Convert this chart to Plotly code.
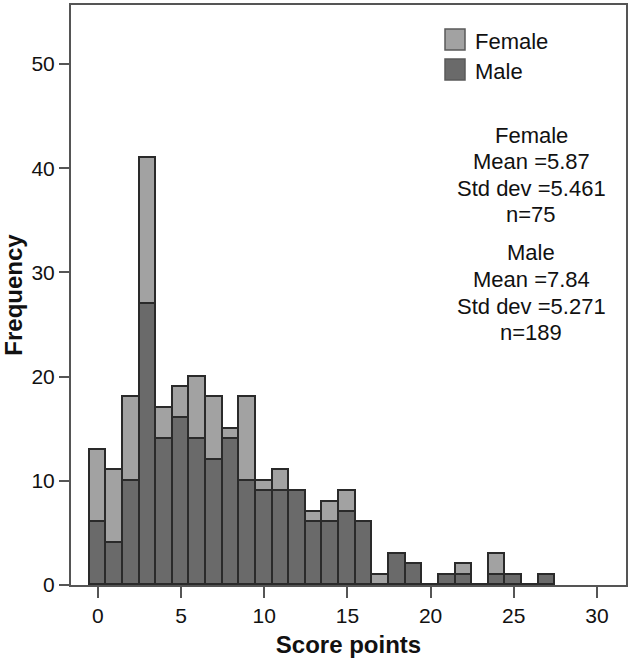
import plotly.graph_objects as go

score_points = list(range(0, 28))
male_counts = [6, 4, 10, 27, 14, 16, 14, 12, 14, 10, 9, 9, 9, 6, 6, 7, 6, 0, 3, 2, 0, 1, 1, 0, 1, 1, 0, 1]
female_counts = [7, 7, 8, 14, 3, 3, 6, 6, 1, 8, 1, 2, 0, 1, 2, 2, 0, 1, 0, 0, 0, 0, 1, 0, 2, 0, 0, 0]
x_ticks = [0, 5, 10, 15, 20, 25, 30]
y_ticks = [0, 10, 20, 30, 40, 50]
female_stats = ["Female", "Mean =5.87", "Std dev =5.461", "n=75"]
male_stats = ["Male", "Mean =7.84", "Std dev =5.271", "n=189"]

FEMALE_COLOR = "#a2a2a2"
MALE_COLOR = "#6a6a6a"
EDGE = "#2a2a2a"
AXIS = "#555555"
FONT = "Arial, 'Liberation Sans', sans-serif"
TXT = "#111111"

# plot area in pixels (for placing paper-referenced text)
L, R, T, B = 71, 626, 5, 585
W, H = R - L, B - T


def px(x):
    return (x - L) / W


def py(y):
    return 1 - (y - T) / H


fig = go.Figure()
fig.add_trace(go.Bar(x=score_points, y=male_counts, name="Male", width=1,
                     marker=dict(color=MALE_COLOR, line=dict(color=EDGE, width=1.6)),
                     showlegend=False))
fig.add_trace(go.Bar(x=score_points, y=female_counts, name="Female", width=1,
                     marker=dict(color=FEMALE_COLOR, line=dict(color=EDGE, width=1.6)),
                     showlegend=False))

# legend
legend_items = [("Female", FEMALE_COLOR), ("Male", MALE_COLOR)]
for i, (lbl, col) in enumerate(legend_items):
    y0 = 29 + i * 30
    fig.add_shape(type="rect", xref="paper", yref="paper",
                  x0=px(445), x1=px(465), y0=py(y0 + 21), y1=py(y0),
                  fillcolor=col, line=dict(color="#5a5a5a", width=1.5))
    fig.add_annotation(xref="paper", yref="paper", x=px(473), y=py(y0 + 12),
                       text=lbl, showarrow=False, xanchor="left", yanchor="middle",
                       font=dict(family=FONT, size=22, color=TXT))

# statistics text
for block, ystart in ((female_stats, 135), (male_stats, 253)):
    for j, line in enumerate(block):
        fig.add_annotation(xref="paper", yref="paper", x=px(531), y=py(ystart + j * 26.5),
                           text=line, showarrow=False, xanchor="center", yanchor="middle",
                           font=dict(family=FONT, size=22, color=TXT))

fig.update_layout(
    width=629, height=663,
    margin=dict(l=L, r=629 - R, t=T, b=663 - B),
    barmode="stack", bargap=0,
    plot_bgcolor="white", paper_bgcolor="white",
    font=dict(family=FONT, size=21, color=TXT),
    xaxis=dict(range=[-1.62, 31.75], tickvals=x_ticks, ticks="outside", ticklen=11,
               tickwidth=2, tickcolor=AXIS, showline=True, linecolor=AXIS,
               linewidth=2, mirror=True, showgrid=False, zeroline=False,
               tickfont=dict(size=21), automargin=False,
               title=dict(text="<b>Score points</b>", font=dict(size=24), standoff=10)),
    yaxis=dict(range=[0, 55.66], tickvals=y_ticks, ticks="outside", ticklen=10,
               tickwidth=2, tickcolor=AXIS, showline=True, linecolor=AXIS,
               linewidth=2, mirror=True, showgrid=False, zeroline=False,
               tickfont=dict(size=21), automargin=False,
               title=dict(text="<b>Frequency</b>", font=dict(size=24), standoff=6)),
)

fig.write_html("out.html", config={"displayModeBar": False},
               post_script="document.body.style.margin='0';")
